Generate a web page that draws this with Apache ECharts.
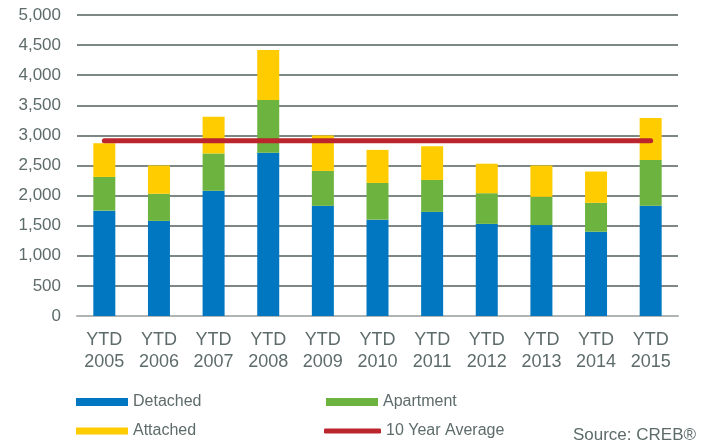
<!DOCTYPE html>
<html>
<head>
<meta charset="utf-8">
<script src="https://cdn.jsdelivr.net/npm/echarts@6/dist/echarts.min.js"></script>
<style>
  html, body { margin: 0; padding: 0; background: #fff; }
  #chart { width: 708px; height: 447px; }
</style>
</head>
<body>
<div id="chart"></div>
<script>
// YTD sales by property type
var years = ['YTD\n2005', 'YTD\n2006', 'YTD\n2007', 'YTD\n2008', 'YTD\n2009', 'YTD\n2010',
             'YTD\n2011', 'YTD\n2012', 'YTD\n2013', 'YTD\n2014', 'YTD\n2015'];
var detached  = [1750, 1580, 2080, 2710, 1830, 1600, 1730, 1530, 1510, 1400, 1830];
var apartment = [560, 450, 620, 880, 580, 610, 530, 510, 470, 480, 760];
var attached  = [560, 470, 610, 830, 590, 550, 560, 490, 520, 520, 700];
var tenYearAvg = [2910, 2910, 2910, 2910, 2910, 2910, 2910, 2910, 2910, 2910, 2910];

var txt = '#5d6b6a';
var font = 'Liberation Sans, Arial, sans-serif';

var chart = echarts.init(document.getElementById('chart'));

function legendAt(name, left, top, icon, w, h) {
  return {
    data: [{ name: name, icon: icon }],
    left: left, top: top,
    itemWidth: w, itemHeight: h,
    selectedMode: false,
    textStyle: { color: txt, fontSize: 16, fontFamily: font }
  };
}

var option = {
  animation: false,
  grid: { left: 77, right: 30, top: 15, bottom: 131 },
  legend: [
    legendAt('Detached', 71, 389, 'rect', 52, 8),
    legendAt('Apartment', 321, 389, 'rect', 52, 8),
    legendAt('Attached', 71, 418, 'rect', 52, 7),
    legendAt('10 Year Average', 319, 418, 'roundRect', 57, 5)
  ],
  xAxis: {
    type: 'category',
    data: years,
    axisTick: { show: false },
    axisLine: { lineStyle: { color: '#b0b4b3', width: 2 } },
    axisLabel: { color: txt, fontSize: 18, fontFamily: font, lineHeight: 22, margin: 13 }
  },
  yAxis: {
    type: 'value',
    min: 0, max: 5000, interval: 500,
    axisLine: { show: false },
    axisTick: { show: false },
    splitLine: { lineStyle: { color: '#7d8885', width: 2 } },
    axisLabel: {
      color: txt, fontSize: 17, fontFamily: font, margin: 16,
      formatter: function (v) { return v.toLocaleString('en-US'); }
    }
  },
  series: [
    { name: 'Detached', type: 'bar', stack: 'sales', barWidth: 22, data: detached,
      itemStyle: { color: '#0077c0' } },
    { name: 'Apartment', type: 'bar', stack: 'sales', barWidth: 22, data: apartment,
      itemStyle: { color: '#6db33f' } },
    { name: 'Attached', type: 'bar', stack: 'sales', barWidth: 22, data: attached,
      itemStyle: { color: '#ffcc00' } },
    { name: '10 Year Average', type: 'line', data: tenYearAvg, symbol: 'none', z: 5,
      itemStyle: { color: '#bb262c' },
      lineStyle: { color: '#bb262c', width: 5, cap: 'round' } }
  ],
  graphic: [
    { type: 'text', right: 12, top: 427,
      style: { text: 'Source: CREB\u00ae', fill: txt, fontSize: 17, fontFamily: font } }
  ]
};

chart.setOption(option);
</script>
</body>
</html>
